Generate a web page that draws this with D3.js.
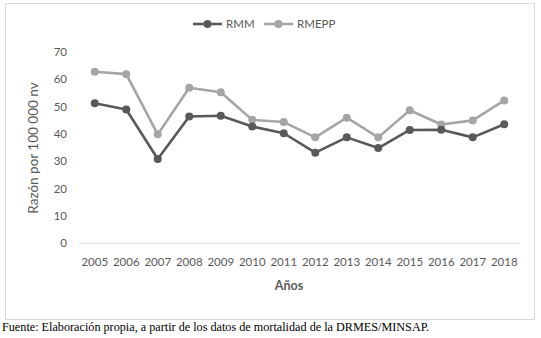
<!DOCTYPE html>
<html>
<head>
<meta charset="utf-8">
<script src="https://cdn.jsdelivr.net/npm/d3@7"></script>
<style>
html,body{margin:0;padding:0;background:#fff;}
svg{display:block;}
</style>
</head>
<body>
<svg id="chart" width="541" height="338"></svg>
<script>
const years = ["2005","2006","2007","2008","2009","2010","2011","2012","2013","2014","2015","2016","2017","2018"];
const rmm   = [51.2, 48.9, 30.8, 46.3, 46.6, 42.7, 40.2, 33.1, 38.7, 34.8, 41.4, 41.5, 38.7, 43.5];
const rmepp = [62.7, 61.8, 39.8, 56.8, 55.2, 45.1, 44.3, 38.7, 45.9, 38.7, 48.6, 43.4, 44.9, 52.2];
const yTicks = [0,10,20,30,40,50,60,70];
const seriesNames = ["RMM","RMEPP"];
const seriesColors = ["#595959","#a5a5a5"];

const svg = d3.select("#chart");
const font = "Lato, 'Open Sans', sans-serif";

// outer border
svg.append("rect").attr("x",5.5).attr("y",3.5).attr("width",529).attr("height",316)
  .attr("fill","#fff").attr("stroke","#d9d9d9").attr("stroke-width",1);

const x = d3.scaleBand().domain(years).range([79,520]);
const y = d3.scaleLinear().domain([0,70]).range([243.3,51.7]);

// baseline
svg.append("line").attr("x1",79).attr("x2",520).attr("y1",y(0)).attr("y2",y(0))
  .attr("stroke","#d9d9d9").attr("stroke-width",1);

// y axis labels
const yAxis = d3.axisLeft(y).tickValues(yTicks).tickSize(0).tickPadding(0);
const gy = svg.append("g").attr("transform","translate(67,0)").call(yAxis);
gy.select(".domain").remove();
gy.selectAll("text").attr("fill","#595959").style("font-family",font).style("font-size","11.5px");

// x axis labels
const xAxis = d3.axisBottom(x).tickSize(0).tickPadding(0);
const gx = svg.append("g").attr("transform","translate(0,258)").call(xAxis);
gx.select(".domain").remove();
gx.selectAll("text").attr("fill","#595959").style("font-family",font).style("font-size","11.5px");

// axis titles
svg.append("text").attr("x",289).attr("y",290).attr("text-anchor","middle")
  .attr("fill","#595959").style("font-family",font).style("font-size","12.5px").style("font-weight","bold")
  .text("Años");
svg.append("text").attr("transform","translate(38,148) rotate(-90)").attr("text-anchor","middle")
  .attr("fill","#595959").style("font-family",font).style("font-size","13.5px")
  .text("Razón por 100 000 nv");

const line = d3.line().x((d,i)=>x(years[i])+x.bandwidth()/2).y(d=>y(d));
[rmepp, rmm].forEach((data,k)=>{
  const c = k===0 ? seriesColors[1] : seriesColors[0];
  svg.append("path").datum(data).attr("d",line).attr("fill","none")
    .attr("stroke",c).attr("stroke-width",2.6).attr("stroke-linejoin","round");
  svg.selectAll(null).data(data).enter().append("circle")
    .attr("cx",(d,i)=>x(years[i])+x.bandwidth()/2).attr("cy",d=>y(d)).attr("r",4)
    .attr("fill",c);
});

// legend
const legX = [193, 264];
seriesNames.forEach((n,i)=>{
  const g = svg.append("g").attr("transform",`translate(${legX[i]},24)`);
  g.append("line").attr("x1",0).attr("x2",29).attr("y1",0).attr("y2",0)
    .attr("stroke",seriesColors[i]).attr("stroke-width",2.6);
  g.append("circle").attr("cx",14.5).attr("cy",0).attr("r",4).attr("fill",seriesColors[i]);
  g.append("text").attr("x",33).attr("y",4).attr("fill","#595959")
    .style("font-family",font).style("font-size","11.5px").text(n);
});

// caption
svg.append("text").attr("x",2).attr("y",331).attr("fill","#000")
  .style("font-family","'Liberation Serif', 'Times New Roman', serif").style("font-size","12.2px")
  .text("Fuente: Elaboración propia, a partir de los datos de mortalidad de la DRMES/MINSAP.");
</script>
</body>
</html>
